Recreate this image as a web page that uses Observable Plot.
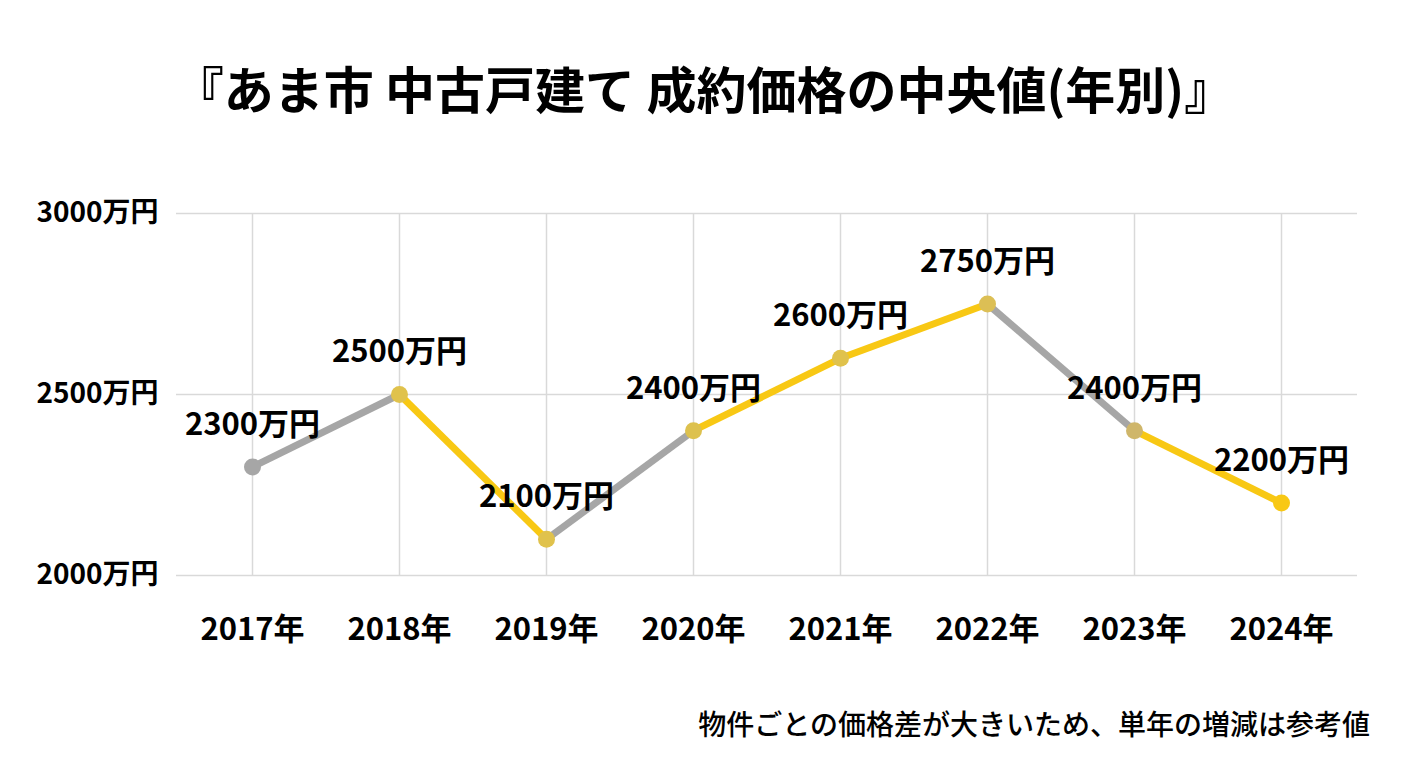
<!DOCTYPE html>
<html><head><meta charset="utf-8">
<script src="https://cdn.jsdelivr.net/npm/d3@7"></script>
<script src="https://cdn.jsdelivr.net/npm/@observablehq/plot@0.6"></script>
<style>
body{margin:0;background:#fff;font-family:"Noto Sans CJK JP",sans-serif;}
#wrap{width:1408px;height:768px;position:relative;overflow:hidden;}
#title{position:absolute;left:0;top:54px;width:1408px;text-align:center;font-size:50px;font-weight:700;color:#000;line-height:66px;}
#chart{position:absolute;left:0;top:150px;}
#note{position:absolute;right:38px;top:703px;font-size:28px;font-weight:500;color:#000;line-height:40px;}
</style></head>
<body><div id="wrap">
<div id="title">『あま市 中古戸建て 成約価格の中央値(年別)』</div>
<div id="chart"></div>
<div id="note">物件ごとの価格差が大きいため、単年の増減は参考値</div>
</div>
<script>
const years = ["2017年","2018年","2019年","2020年","2021年","2022年","2023年","2024年"];
const prices = [2300,2500,2100,2400,2600,2750,2400,2200];
const labels = ["2300万円","2500万円","2100万円","2400万円","2600万円","2750万円","2400万円","2200万円"];
const segmentColors = ["#a6a6a6","#f8c814","#a6a6a6","#f8c814","#f8c814","#a6a6a6","#f8c814"];
const pointColors = ["#a6a6a6","#e0c24c","#e0c24c","#ddc14e","#e0c24c","#dcbf55","#cfb66a","#f8c814"];
const yTicks = [2000,2500,3000];

const pts = years.map((y,i)=>({year:y, price:prices[i], label:labels[i], color:pointColors[i]}));
const segs = years.slice(0,-1).map((y,i)=>({x1:y, y1:prices[i], x2:years[i+1], y2:prices[i+1], color:segmentColors[i]}));

const chart = Plot.plot({
  width:1408, height:530,
  marginTop:63, marginBottom:105, marginLeft:176, marginRight:51,
  style:{fontFamily:"Noto Sans CJK JP", color:"#000", background:"#fff"},
  x:{type:"point", domain:years, padding:0.5, label:null},
  y:{domain:[2000,3000], label:null},
  marks:[
    Plot.ruleX(years, {stroke:"#d9d9d9", strokeWidth:1.5}),
    Plot.gridY(yTicks, {stroke:"#d9d9d9", strokeWidth:1.5, strokeOpacity:1}),
    Plot.axisY(yTicks, {tickSize:0, tickPadding:18, tickFormat:d=>d+"万円", fontSize:28, fontWeight:700, label:null}),
    Plot.axisX(years, {tickSize:0, tickPadding:42, fontSize:31, fontWeight:700, label:null}),
    Plot.link(segs, {x1:"x1", y1:"y1", x2:"x2", y2:"y2", stroke:"color", strokeWidth:7}),
    Plot.dot(pts, {x:"year", y:"price", fill:"color", r:8.5}),
    Plot.text(pts, {x:"year", y:"price", text:"label", dy:-42, fontSize:31, fontWeight:700, fill:"#000"})
  ]
});
document.getElementById("chart").appendChild(chart);
</script>
</body></html>
